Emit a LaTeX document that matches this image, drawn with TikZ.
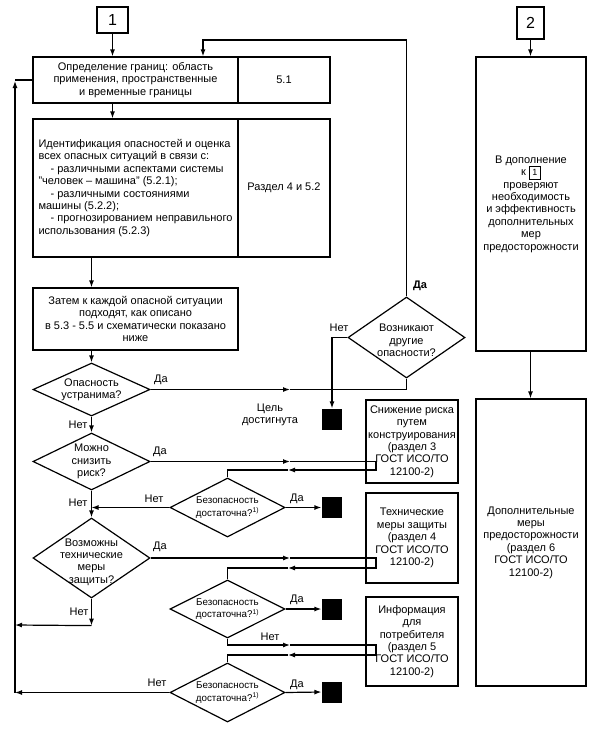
\documentclass[tikz,border=0pt]{standalone}
\usepackage{fontspec}
\setmainfont{Liberation Sans}
\usepackage{tikz}
\usetikzlibrary{shapes.geometric,positioning,calc,arrows.meta}

\tikzset{
  every node/.style={font=\fontsize{11}{12.4}\selectfont},
  box/.style={draw,line width=1.2pt,align=center,inner sep=1pt},
  dec/.style={draw,diamond,line width=1.2pt,inner sep=0pt},
  dectext/.style={align=center},
  safetext/.style={align=center,font=\fontsize{9.8}{12.5}\selectfont},
  goal/.style={fill=black,minimum width=20,minimum height=21,inner sep=0pt},
  numbox/.style={draw,line width=1.2pt,font=\fontsize{16}{16}\selectfont,inner sep=0pt},
  conn/.style={line width=1.2pt},
  arr/.style={-{Latex[length=7pt,width=5pt]}}
}

\begin{document}
\begin{tikzpicture}[x=1pt,y=-1pt,conn]
	\useasboundingbox (0,0) rectangle (596,729);
	% left column
	\node[numbox,minimum width=31,minimum height=26] (n1) at (112.5,20) {1};
	\node[box,minimum width=205,minimum height=46] (bounds) at (135.5,80) {Определение границ: область\\применения, пространственные\\и временные границы};
	\node[box,minimum width=92,minimum height=46] (boundsref) at (284,80) {5.1};
	\node[box,minimum width=205,minimum height=138,align=left] (ident) at (135.5,188) {Идентификация опасностей и оценка\\всех опасных ситуаций в связи с:\\\hspace*{1.1em}- различными аспектами системы\\"человек -- машина" (5.2.1);\\\hspace*{1.1em}- различными состояниями\\машины (5.2.2);\\\hspace*{1.1em}- прогнозированием неправильного\\использования (5.2.3)};
	\node[box,minimum width=92,minimum height=138] (identref) at (284,188) {Раздел 4 и 5.2};
	\node[box,minimum width=205,minimum height=62] (each) at (135.5,319) {Затем к каждой опасной ситуации\\подходят, как описано\\в 5.3 - 5.5 и схематически показано\\ниже};
	% decisions
	\node[dec,minimum width=117,minimum height=53,label={[dectext]center:Опасность\\устранима?}] (elim) at (91.5,389.5) {};
	\node[dec,minimum width=117,minimum height=81,label={[dectext,yshift=-3]center:Возникают\\другие\\опасности?}] (other) at (406.5,337.5) {};
	\node[dec,minimum width=117,minimum height=57,label={[dectext]center:Можно\\снизить\\риск?}] (reduce) at (91.5,461.5) {};
	\node[dec,minimum width=115,minimum height=59,label={[safetext]center:Безопасность\\достаточна?\textsuperscript{1)}}] (safeA) at (227.5,507.5) {};
	\node[dec,minimum width=117,minimum height=80,label={[dectext,yshift=-4]center:Возможны\\технические\\меры\\защиты?}] (tech) at (91.5,558) {};
	\node[dec,minimum width=115,minimum height=58,label={[safetext]center:Безопасность\\достаточна?\textsuperscript{1)}}] (safeB) at (227.5,609) {};
	\node[dec,minimum width=115,minimum height=59,label={[safetext]center:Безопасность\\достаточна?\textsuperscript{1)}}] (safeC) at (227.5,692.5) {};
	% end points
	\node[goal] (goalA) at (332,419.5) {};
	\node[goal] (goalB) at (332,507.5) {};
	\node[goal] (goalC) at (332,609) {};
	\node[goal] (goalD) at (332,692) {};
	\node[align=center] (done) at (270,415) {Цель\\достигнута};
	% measures
	\node[box,minimum width=92,minimum height=83] (design) at (412,441.5) {Снижение риска\\путем\\конструирования\\(раздел 3\\ГОСТ ИСО/ТО\\12100-2)};
	\node[box,minimum width=92,minimum height=90] (guard) at (412,538) {Технические\\меры защиты\\(раздел 4\\ГОСТ ИСО/ТО\\12100-2)};
	\node[box,minimum width=92,minimum height=89] (info) at (412,641.5) {Информация\\для\\потребителя\\(раздел 5\\ГОСТ ИСО/ТО\\12100-2)};
	% right column
	\node[numbox,minimum width=27,minimum height=32] (n2) at (530.5,23) {2};
	\node[box,minimum width=110,minimum height=294] (check) at (531,204) {В дополнение\\к \fbox{\fontsize{9}{9}\selectfont 1}\\проверяют\\необходимость\\и эффективность\\дополнительных\\мер\\предосторожности};
	\node[box,minimum width=110,minimum height=287] (extra) at (531,542.5) {Дополнительные\\меры\\предосторожности\\(раздел 6\\ГОСТ ИСО/ТО\\12100-2)};
	% labels
	\node (yes1) at (161,380) {Да};
	\node[font=\fontsize{11}{12.4}\selectfont\bfseries] (yes2) at (420,286) {Да};
	\node (no2) at (339,328) {Нет};
	\node (no1) at (78,425) {Нет};
	\node (yes3) at (160,452) {Да};
	\node (no4) at (154,499) {Нет};
	\node (yes4) at (297,499) {Да};
	\node (no3) at (78,503) {Нет};
	\node (yes5) at (160,547) {Да};
	\node (no5) at (79,612) {Нет};
	\node (yes6) at (297,600) {Да};
	\node (no6) at (270,637) {Нет};
	\node (no7) at (157,683) {Нет};
	\node (yes7) at (297,685) {Да};
	% connectors
	\draw[arr] (n1.south) -- (n1.south |- bounds.north);
	\draw[arr] (n2.south) -- (n2.south |- check.north);
	\draw[arr] (check.south -| n2.south) -- (n2.south |- extra.north);
	\draw[arr] (n1.south |- bounds.south) -- (n1.south |- ident.north);
	\draw[arr] (elim.north |- ident.south) -- (elim.north |- each.north);
	\draw[arr] (elim.north |- each.south) -- (elim.north);
	\draw[arr] (elim.east) -- (290,389.5);
	\draw (290,389.5) -| (other.south);
	\draw[arr] (other.north) -- (other.north |- 0,40) -| ([xshift=67.5]bounds.north);
	\draw[arr] (other.west) -| (goalA.north);
	\draw[arr] (elim.south) -- (reduce.north);
	\draw[arr] (reduce.east) -- (290,461.5);
	\draw[arr] (290,461.5) -- (376,461.5) -- (376,470) -- (288,470);
	\draw (288,470) -| (safeA.north);
	\draw[arr] (safeA.west) -- (safeA.west -| reduce.south);
	\draw[arr] (safeA.east) -- (goalB.west);
	\draw[arr] (reduce.south) -- (tech.north);
	\draw[arr] (tech.east) -- (290,558);
	\draw[arr] (290,558) -- (376,558) -- (376,568) -- (288,568);
	\draw (288,568) -| (safeB.north);
	\draw[arr] (safeB.east) -- (goalC.west);
	\draw[arr] (safeB.south) |- (290,645);
	\draw[arr] (290,645) -- (376,645) -- (376,655) -- (288,655);
	\draw (288,655) -| (safeC.north);
	\draw[arr] (safeC.east) -- (goalD.west);
	\draw[arr] (tech.south) -- ++(0,27) coordinate (techout);
	\draw[arr] (techout) -- (15,625);
	\draw[arr] (safeC.west) -- (15,692.5);
	\draw[arr] (15,692.5) -- (15,81);
	\draw (15,80) -- (bounds.west);
\end{tikzpicture}
\end{document}
